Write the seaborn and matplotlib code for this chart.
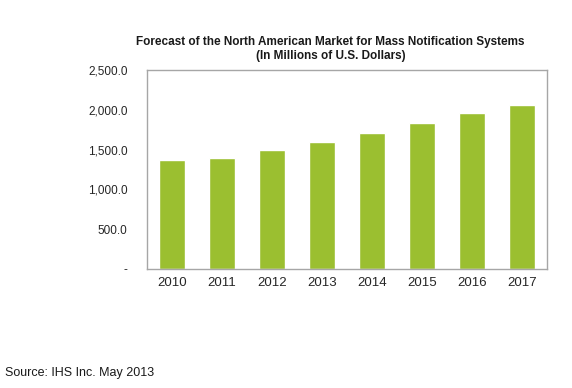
import matplotlib
matplotlib.use("Agg")
import matplotlib.pyplot as plt
import seaborn as sns
import pandas as pd

years = ["2010", "2011", "2012", "2013", "2014", "2015", "2016", "2017"]
values = [1369, 1398, 1495, 1591, 1704, 1830, 1956, 2064]
yticks = [0, 500, 1000, 1500, 2000, 2500]
ytick_labels = ["-", "500.0", "1,000.0", "1,500.0", "2,000.0", "2,500.0"]

sns.set_style("white")
plt.rcParams["font.family"] = ["Liberation Sans", "DejaVu Sans"]

df = pd.DataFrame({"year": years, "value": values})

fig = plt.figure(figsize=(5.72, 3.88), dpi=100)
ax = fig.add_axes([0.257, 0.3067, 0.699, 0.513])
sns.barplot(data=df, x="year", y="value", color="#9BBF30", saturation=1,
            width=0.51, ax=ax)
ax.set_ylim(0, 2500)
ax.set_yticks(yticks)
ax.set_yticklabels(ytick_labels)
ax.set_xlabel("")
ax.set_ylabel("")
for s in ax.spines.values():
    s.set_color("#A6A6A6")
    s.set_linewidth(1.0)
ax.tick_params(axis="y", length=0, pad=14, labelsize=8.5, labelcolor="#262626")
ax.tick_params(axis="x", length=0, pad=6, labelsize=9.5, labelcolor="#262626")

fig.text(0.578, 0.874,
         "Forecast of the North American Market for Mass Notification Systems\n(In Millions of U.S. Dollars)",
         ha="center", va="center", fontsize=8.5, fontweight="bold",
         color="#1a1a1a", linespacing=1.15)
fig.text(0.009, 0.038, "Source: IHS Inc. May 2013", ha="left", va="center",
         fontsize=9, color="#1a1a1a")

fig.savefig("out.png", dpi=100)
